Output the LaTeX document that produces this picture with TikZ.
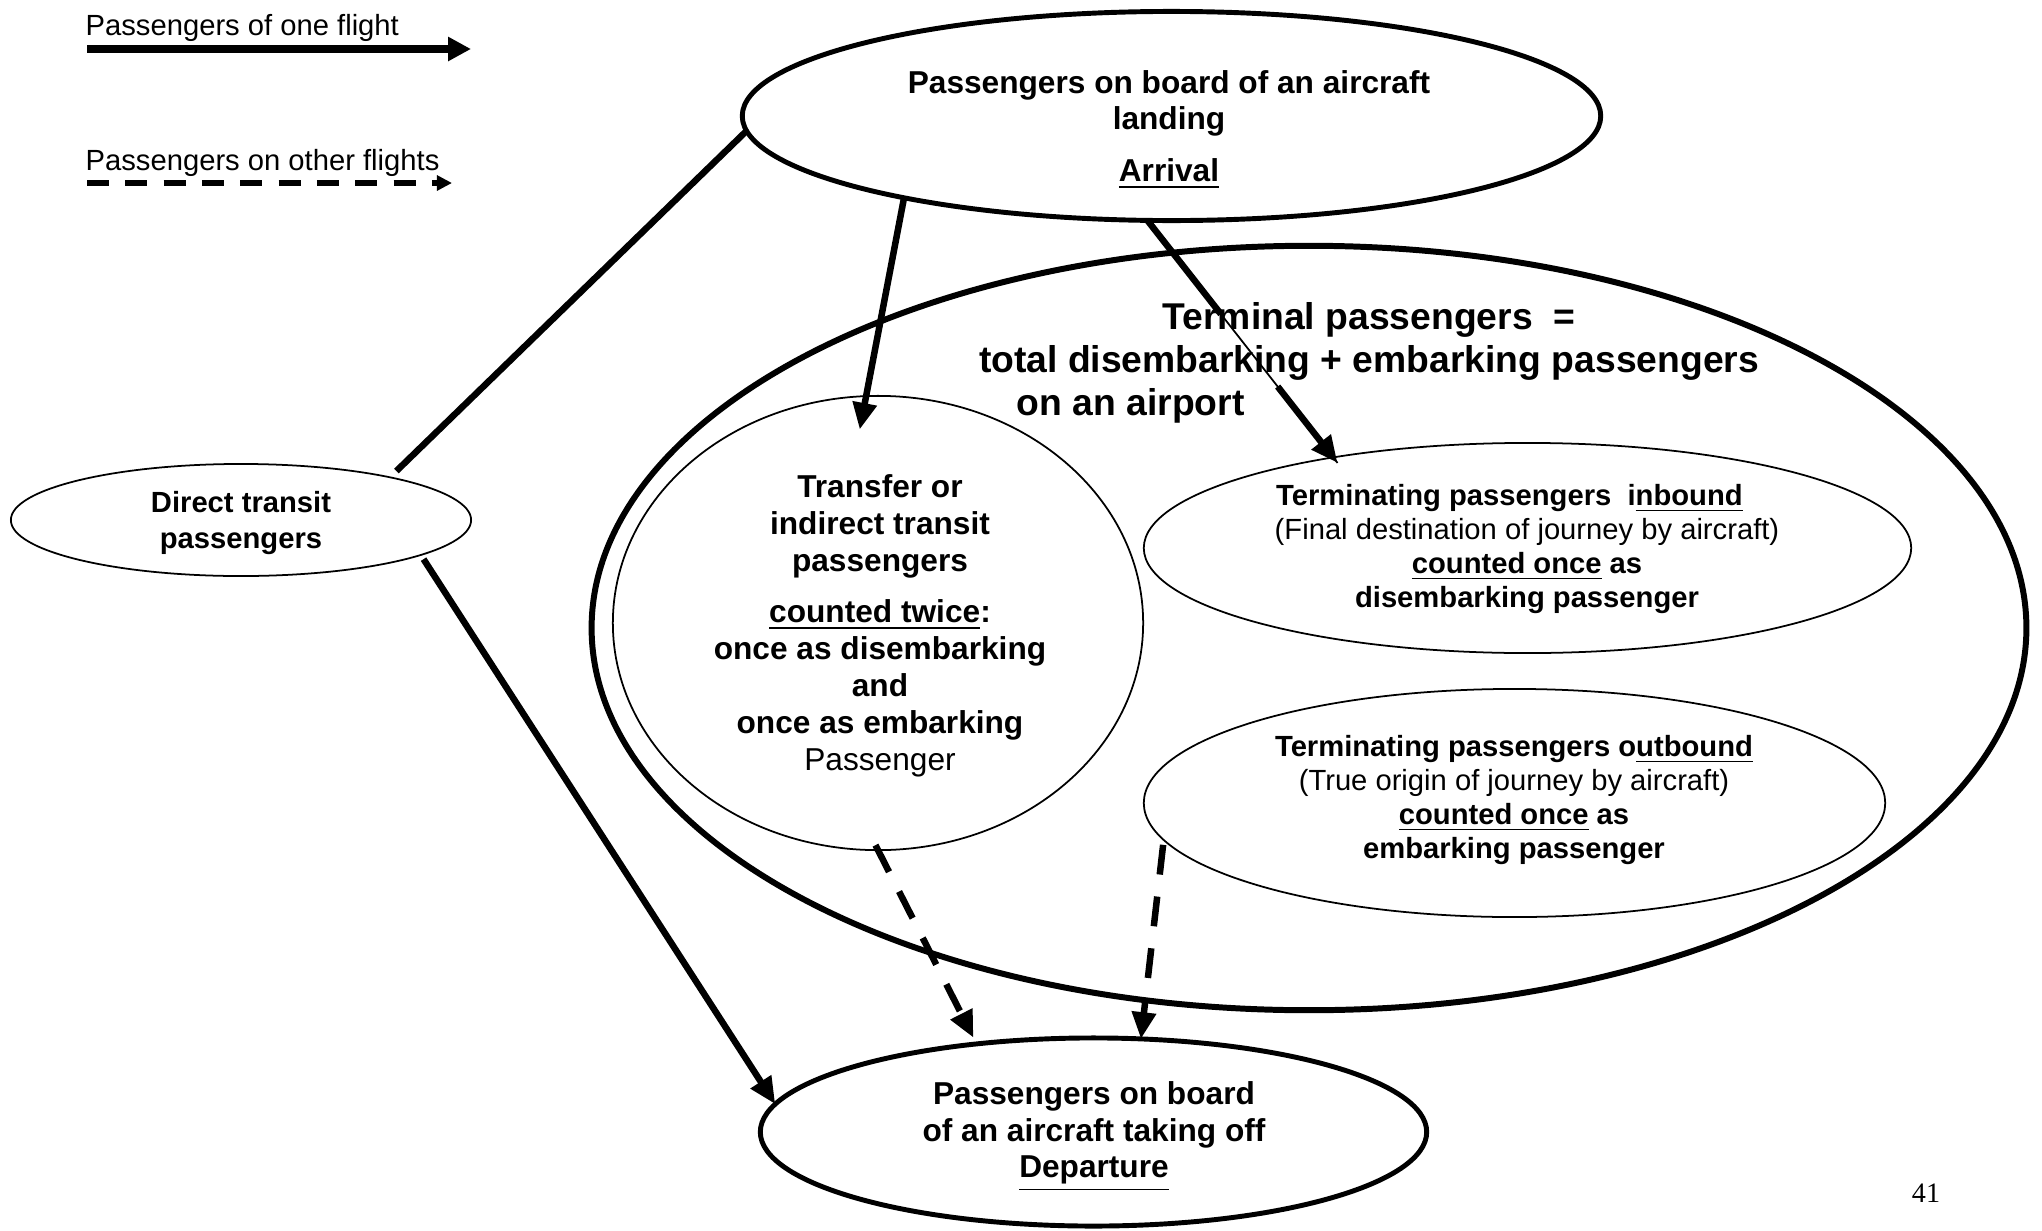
\documentclass[tikz,border=0pt]{standalone}
\usepackage{fontspec}
\setmainfont{Liberation Sans}
\newfontfamily\serifnum{Liberation Serif}
\usetikzlibrary{shapes.geometric,arrows.meta}
\begin{document}
\begin{tikzpicture}[x=0.01cm,y=-0.01cm,
  ell/.style={ellipse,draw,inner sep=0pt,outer sep=0pt},
  thickell/.style={ell,line width=1.4pt},
  thinell/.style={ell,line width=0.5pt},
  txt/.style={align=center,inner sep=0pt},
  flow/.style={line width=1.85pt,-{Triangle[length=7.6pt,width=6.6pt]}},
  other/.style={flow,dash pattern=on 8.5pt off 6.3pt},
  plainline/.style={line width=1.85pt},
  legtxt/.style={anchor=west,inner sep=0pt,font=\fontsize{8.3}{10}\selectfont},
]
\useasboundingbox (0,0) rectangle (2042,1230);

% ellipses
\node[thickell, minimum width=8.58cm, minimum height=2.09cm] (arr) at (1171.5,116) {};
\node[ell, line width=1.7pt, minimum width=14.34cm, minimum height=7.64cm] (term) at (1309,628) {};
\node[thinell, minimum width=4.60cm, minimum height=1.12cm] (direct) at (241,520) {};
\node[thinell, minimum width=5.30cm, minimum height=4.54cm] (tr) at (878,623) {};
\node[thinell, minimum width=7.67cm, minimum height=2.10cm] (inb) at (1527.5,548) {};
\node[thinell, minimum width=7.41cm, minimum height=2.28cm] (outb) at (1514.5,803) {};
\node[thickell, minimum width=6.66cm, minimum height=1.88cm] (dep) at (1093.5,1132) {};

% legend
\node[legtxt] (leg1) at (85,28) {Passengers of one flight};
\node[legtxt] (leg2) at (85,163) {Passengers on other flights};
\coordinate (l1s) at (87,49);
\coordinate (l1e) at (471,49);
\coordinate (l2s) at (87,183);
\coordinate (l2e) at (452,183);
\draw[line width=2.3pt, -{Triangle[length=6.5pt,width=6.5pt]}] (l1s) -- (l1e);
\draw[line width=1.9pt, dash pattern=on 6.3pt off 4.6pt, -{Triangle[length=4.3pt,width=4.2pt]}] (l2s) -- (l2e);

% connectors
\draw[plainline, shorten >=0.09cm] (arr.182.3) -- (direct.16);
\draw[flow, shorten <=0.05cm] (direct.-11.2) -- (dep.175.1);
\draw[flow, shorten >=-0.34cm] (arr.197.2) -- (tr.93.4);
\draw[flow, shorten >=-0.07cm, dash pattern=on 1.19cm off 0.92cm on 4cm] (arr.257) -- (inb.155.7);
\draw[other, shorten <=-0.056cm, shorten >=0.07cm] (tr.south) -- (dep.143.3);
\draw[other, shorten <=0.05cm] (outb.186.4) -- (dep.63);

% texts
\node[txt, font=\fontsize{9}{10.3}\selectfont\bfseries] (arrT) at (1169,130)
  {Passengers on board of an aircraft\\landing\\[4.5pt]\underline{Arrival}};
\node[txt, font=\fontsize{10.6}{12.2}\selectfont\bfseries] (termT) at (1369,341)
  {Terminal passengers~~=\\total disembarking + embarking passengers};
\draw[line width=0.5pt, shorten >=-0.07cm] (arr.257) -- (inb.155.7);
\node[anchor=west, inner sep=0pt, font=\fontsize{10.6}{12.2}\selectfont\bfseries] (termT2) at (1016,406) {on an airport};
\node[txt, font=\fontsize{8.3}{10}\selectfont\bfseries] (directT) at (241,523)
  {Direct transit\\passengers};
\node[txt, font=\fontsize{9}{10.5}\selectfont\bfseries] (trT) at (880,626)
  {Transfer or\\indirect transit\\passengers\\[4pt]\underline{counted twice}:\\once as disembarking\\and\\once as embarking\\{\mdseries Passenger}};
\node[txt, font=\fontsize{8.3}{9.7}\selectfont\bfseries] (inbT) at (1527,549)
  {Terminating passengers~~i\underline{nbound}\hspace*{10pt}\\{\mdseries (Final destination of journey by aircraft)}\\\underline{counted once} as\\disembarking passenger};
\node[txt, font=\fontsize{8.3}{9.7}\selectfont\bfseries] (outbT) at (1514,800)
  {Terminating passengers o\underline{utbound}\\{\mdseries (True origin of journey by aircraft)}\\\underline{counted once} as\\embarking passenger};
\node[txt, font=\fontsize{9}{10.4}\selectfont\bfseries] (depT) at (1094,1136.5)
  {Passengers on board\\of an aircraft taking off\\\underline{Departure}};
\node[inner sep=0pt, font=\serifnum\fontsize{8}{9}\selectfont] (pg) at (1926,1193) {41};
\end{tikzpicture}
\end{document}
